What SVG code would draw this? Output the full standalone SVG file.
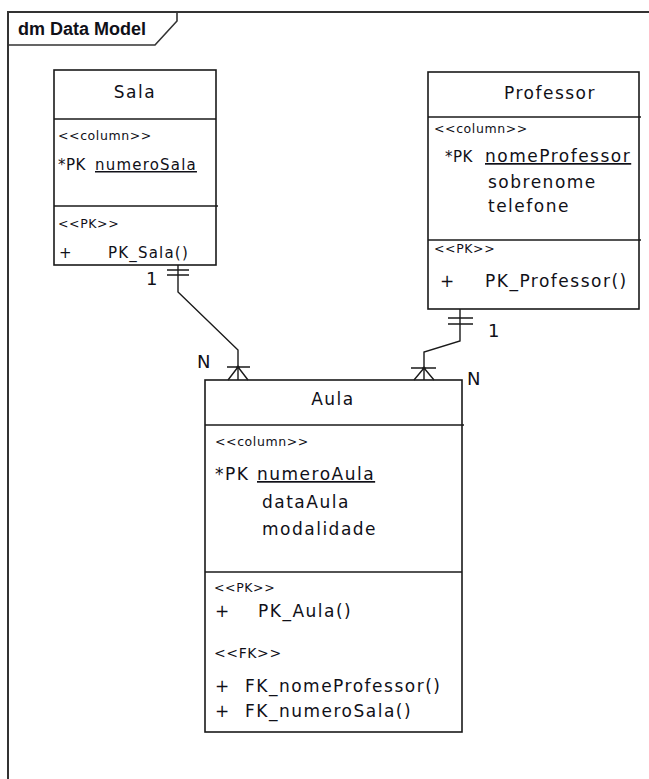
<svg xmlns="http://www.w3.org/2000/svg" width="649" height="779" viewBox="0 0 649 779">
<style>
.box{fill:#fff;stroke:#1a1a1a;stroke-width:1.6}
.sep{stroke:#1a1a1a;stroke-width:1.4}
.t{font-family:"DejaVu Sans",sans-serif;fill:#101018}
.title{font-size:17px;letter-spacing:1.5px}
.st{font-size:12.5px;letter-spacing:0.6px}
.a15{font-size:15px;letter-spacing:1.2px}
.a17{font-size:17px;letter-spacing:1.5px}
.pk{font-size:15px;letter-spacing:0.5px}
.lbl{font-family:"DejaVu Sans",sans-serif;font-size:18px;fill:#101018}
.conn{fill:none;stroke:#1a1a1a;stroke-width:1.4}
</style>
<rect width="649" height="779" fill="#fff"/>
<g id="frame">
<path d="M8,779 V12 H649" fill="none" stroke="#333" stroke-width="2"/>
<path d="M8,45 H155 L177,21 V12" fill="none" stroke="#333" stroke-width="1.6"/>
<text x="18" y="35" font-family="Liberation Sans, Arial, sans-serif" font-weight="bold" font-size="18" fill="#101018">dm Data Model</text>
</g>
<g id="sala">
<rect class="box" x="54" y="70" width="162" height="195"/>
<line class="sep" x1="54" y1="119" x2="216" y2="119"/>
<line class="sep" x1="54" y1="206" x2="218" y2="206"/>
<text class="t title" x="135" y="98" text-anchor="middle">Sala</text>
<text class="t st" x="58" y="140">&lt;&lt;column&gt;&gt;</text>
<text class="t pk" x="58" y="170">*PK</text>
<text class="t a15" x="95" y="170" text-decoration="underline">numeroSala</text>
<text class="t st" x="58" y="228">&lt;&lt;PK&gt;&gt;</text>
<text class="t a15" x="59" y="258">+</text>
<text class="t a15" x="108" y="258">PK_Sala()</text>
</g>
<g id="professor">
<rect class="box" x="428" y="72" width="211" height="237"/>
<line class="sep" x1="428" y1="117" x2="641" y2="117"/>
<line class="sep" x1="428" y1="240" x2="641" y2="240"/>
<text class="t title" x="550" y="99" text-anchor="middle">Professor</text>
<text class="t st" x="434" y="133">&lt;&lt;column&gt;&gt;</text>
<text class="t pk" x="445" y="162">*PK</text>
<text class="t a17" x="485" y="162" text-decoration="underline">nomeProfessor</text>
<text class="t a17" x="488" y="188">sobrenome</text>
<text class="t a17" x="488" y="212">telefone</text>
<text class="t st" x="434" y="253">&lt;&lt;PK&gt;&gt;</text>
<text class="t a17" x="440" y="287">+</text>
<text class="t a17" x="485" y="287">PK_Professor()</text>
</g>
<g id="aula">
<rect class="box" x="205" y="380" width="257" height="352"/>
<line class="sep" x1="205" y1="425" x2="464" y2="425"/>
<line class="sep" x1="205" y1="572" x2="462" y2="572"/>
<text class="t title" x="333" y="405" text-anchor="middle">Aula</text>
<text class="t st" x="215" y="446">&lt;&lt;column&gt;&gt;</text>
<text class="t a17" x="215" y="480" letter-spacing="0.5">*PK</text>
<text class="t a17" x="257" y="480" text-decoration="underline">numeroAula</text>
<text class="t a17" x="262" y="508">dataAula</text>
<text class="t a17" x="262" y="535">modalidade</text>
<text class="t st" x="214" y="592">&lt;&lt;PK&gt;&gt;</text>
<text class="t st" x="214" y="658" style="font-size:14px">&lt;&lt;FK&gt;&gt;</text>
<text class="t a17" x="215" y="617">+</text>
<text class="t a17" x="258" y="617">PK_Aula()</text>
<text class="t a17" x="215" y="692">+</text>
<text class="t a17" x="245" y="692">FK_nomeProfessor()</text>
<text class="t a17" x="215" y="717">+</text>
<text class="t a17" x="245" y="717">FK_numeroSala()</text>
</g>
<g id="connectors">
<path class="conn" d="M178,265 V292 L238,350 V380"/>
<path class="conn" d="M167,270 H189 M167,275 H189"/>
<path class="conn" d="M227,367 H250 M238,367 L228,380 M238,367 L248,380"/>
<circle cx="238" cy="367" r="1.6" fill="#1a1a1a"/>
<path class="conn" d="M460,309 V341 L424,352 V380"/>
<path class="conn" d="M448,318 H473 M448,324 H473"/>
<path class="conn" d="M411,368 H436 M424,368 L414,380 M424,368 L434,380"/>
<circle cx="424" cy="368" r="1.6" fill="#1a1a1a"/>
<text class="lbl" x="146" y="285">1</text>
<text class="lbl" x="197" y="368">N</text>
<text class="lbl" x="488" y="337">1</text>
<text class="lbl" x="467" y="385">N</text>
</g>
</svg>
